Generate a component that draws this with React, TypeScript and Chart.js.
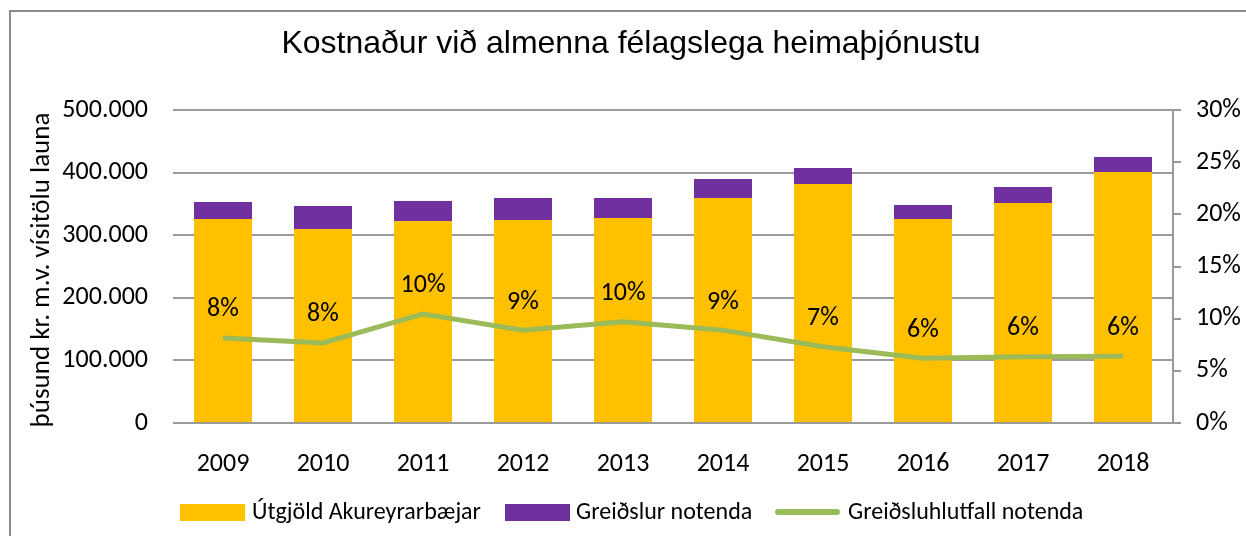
import React, { useEffect, useRef } from "react";
import { Chart, registerables } from "chart.js";

Chart.register(...registerables);

const years = ["2009", "2010", "2011", "2012", "2013", "2014", "2015", "2016", "2017", "2018"];
const utgjold = [326000, 310000, 322700, 324300, 327500, 359400, 381800, 325900, 351400, 401000];
const greidslur = [27000, 36600, 31900, 35100, 31900, 30400, 25500, 22300, 25600, 23900];
const hlutfall = [8.15, 7.67, 10.45, 8.9, 9.7, 8.9, 7.3, 6.2, 6.35, 6.4];
const leftTicks = [0, 100000, 200000, 300000, 400000, 500000];
const rightTicks = [0, 5, 10, 15, 20, 25, 30];

const TITLE = "Kostnaður við almenna félagslega heimaþjónustu";
const Y_TITLE = "þúsund kr. m.v. vísitölu launa";
const LEGEND = ["Útgjöld Akureyrarbæjar", "Greiðslur notenda", "Greiðsluhlutfall notenda"];

const YELLOW = "#FFC000";
const PURPLE = "#7030A0";
const GREEN = "#9BBB59";
const GRID = "#9a9a9a";
const FONT = "Carlito, Lato, sans-serif";

function fmtThousands(v: number): string {
  return String(Math.round(v)).replace(/\B(?=(\d{3})+(?!\d))/g, ".");
}

const decorPlugin = {
  id: "decor",
  beforeDraw(chart: any) {
    const ctx = chart.ctx;
    ctx.save();
    ctx.fillStyle = "#ffffff";
    ctx.fillRect(0, 0, chart.width, chart.height);
    ctx.strokeStyle = "#8c8c8c";
    ctx.lineWidth = 2;
    ctx.beginPath();
    ctx.moveTo(10, chart.height);
    ctx.lineTo(10, 11);
    ctx.lineTo(chart.width, 11);
    ctx.stroke();
    ctx.restore();
  },
  afterDraw(chart: any) {
    const ctx = chart.ctx;
    ctx.save();
    // title
    ctx.fillStyle = "#000000";
    ctx.font = "32px 'Liberation Sans', Arial, sans-serif";
    ctx.textAlign = "center";
    ctx.textBaseline = "middle";
    ctx.fillText(TITLE, 631, 44);
    // y axis title
    ctx.save();
    ctx.translate(42, 270);
    ctx.rotate(-Math.PI / 2);
    ctx.font = "27px " + FONT;
    ctx.fillText(Y_TITLE, 0, 0);
    ctx.restore();
    // data labels
    const meta = chart.getDatasetMeta(2);
    ctx.font = "26px " + FONT;
    meta.data.forEach((pt: any, i: number) => {
      ctx.fillText(Math.round(hlutfall[i]) + "%", pt.x, pt.y - 28);
    });
    // legend
    ctx.font = "24px " + FONT;
    ctx.textAlign = "left";
    ctx.fillStyle = YELLOW;
    ctx.fillRect(180, 504, 65, 17);
    ctx.fillStyle = PURPLE;
    ctx.fillRect(505, 504, 65, 17);
    ctx.strokeStyle = GREEN;
    ctx.lineWidth = 6;
    ctx.lineCap = "round";
    ctx.beginPath();
    ctx.moveTo(778, 512);
    ctx.lineTo(837, 512);
    ctx.stroke();
    ctx.fillStyle = "#000000";
    ctx.fillText(LEGEND[0], 252, 513);
    ctx.fillText(LEGEND[1], 576, 513);
    ctx.fillText(LEGEND[2], 848, 513);
    ctx.restore();
  },
};

export default function App() {
  const ref = useRef<HTMLCanvasElement | null>(null);
  useEffect(() => {
    document.body.style.margin = "0";
    document.body.style.overflow = "hidden";
    if (!ref.current) return;
    const chart = new Chart(ref.current, {
      type: "bar",
      data: {
        labels: years,
        datasets: [
          {
            type: "bar",
            label: LEGEND[0],
            data: utgjold,
            backgroundColor: YELLOW,
            stack: "s",
            yAxisID: "y",
            order: 2,
            categoryPercentage: 1,
            barPercentage: 0.58,
          },
          {
            type: "bar",
            label: LEGEND[1],
            data: greidslur,
            backgroundColor: PURPLE,
            stack: "s",
            yAxisID: "y",
            order: 2,
            categoryPercentage: 1,
            barPercentage: 0.58,
          },
          {
            type: "line",
            label: LEGEND[2],
            data: hlutfall,
            borderColor: GREEN,
            borderWidth: 5,
            pointRadius: 0,
            tension: 0,
            yAxisID: "y1",
            order: 0,
          } as any,
        ],
      },
      options: {
        animation: false,
        responsive: false,
        layout: { padding: { top: 110, bottom: 60, left: 0, right: 0 } },
        plugins: {
          legend: { display: false },
          title: { display: false },
          tooltip: { enabled: false },
        },
        scales: {
          x: {
            stacked: true,
            grid: { display: false, drawTicks: false },
            border: { display: false },
            ticks: { color: "#000", font: { family: FONT, size: 26 }, padding: 26 },
            afterFit: (s: any) => {
              s.height = 53;
            },
          },
          y: {
            stacked: true,
            position: "left",
            min: 0,
            max: 500000,
            afterBuildTicks: (s: any) => {
              s.ticks = leftTicks.map((v) => ({ value: v }));
            },
            grid: { color: GRID, lineWidth: 2, drawTicks: false },
            border: { display: false },
            ticks: {
              color: "#000",
              font: { family: FONT, size: 26 },
              padding: 25,
              callback: (v: any) => fmtThousands(Number(v)),
            },
            afterFit: (s: any) => {
              s.width = 173;
            },
          },
          y1: {
            position: "right",
            min: 0,
            max: 30,
            afterBuildTicks: (s: any) => {
              s.ticks = rightTicks.map((v) => ({ value: v }));
            },
            grid: { drawOnChartArea: false, drawTicks: true, tickLength: 8, color: GRID, lineWidth: 2 },
            border: { display: true, color: GRID, width: 2 },
            ticks: {
              color: "#000",
              font: { family: FONT, size: 26 },
              padding: 15,
              callback: (v: any) => v + "%",
            },
            afterFit: (s: any) => {
              s.width = 73;
            },
          },
        },
      },
      plugins: [decorPlugin],
    });
    return () => chart.destroy();
  }, []);
  return (
    <canvas ref={ref} width={1246} height={536} style={{ display: "block", width: 1246, height: 536 }} />
  );
}
